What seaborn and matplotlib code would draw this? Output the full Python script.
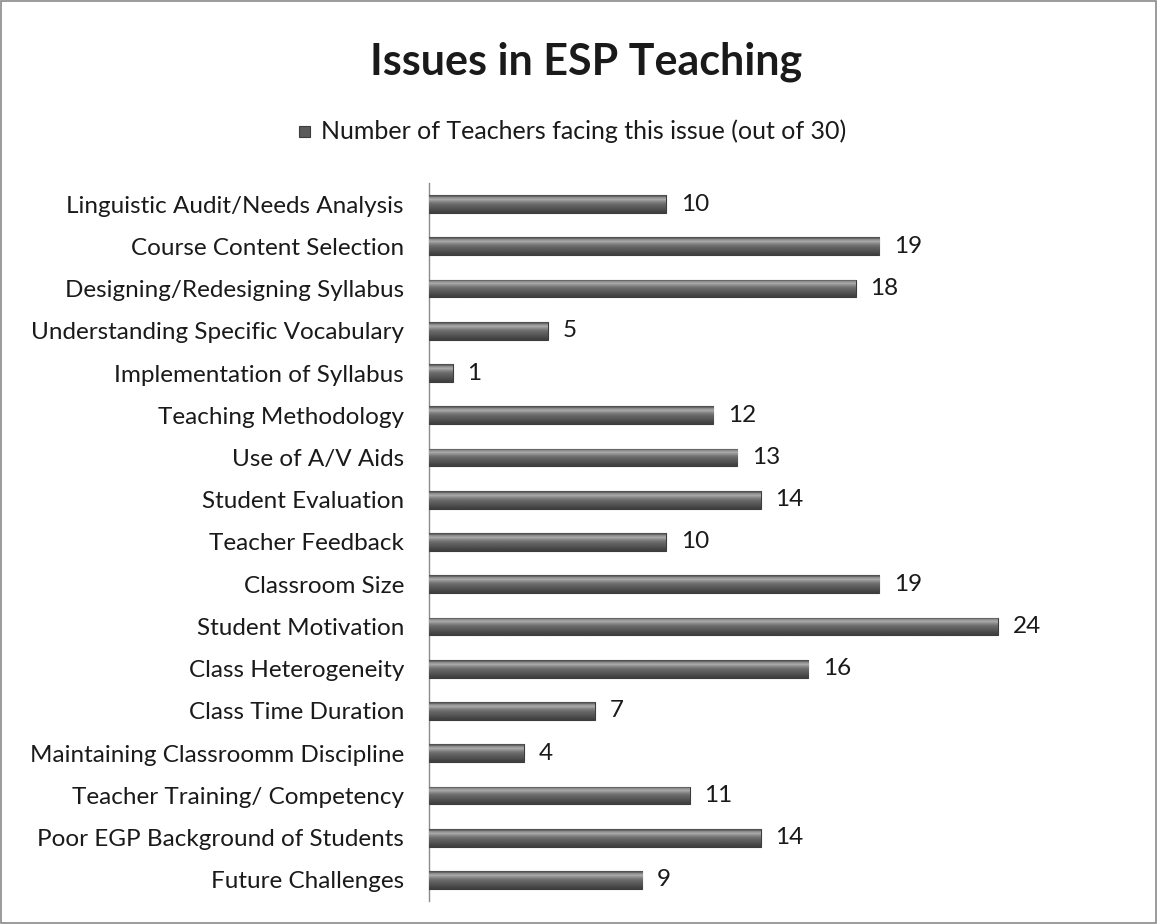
import numpy as np
import pandas as pd
import matplotlib
matplotlib.use("Agg")
import matplotlib.pyplot as plt
import seaborn as sns

# Dados do gráfico
issues = [
    "Linguistic Audit/Needs Analysis",
    "Course Content Selection",
    "Designing/Redesigning Syllabus",
    "Understanding Specific Vocabulary",
    "Implementation of Syllabus",
    "Teaching Methodology",
    "Use of A/V Aids",
    "Student Evaluation",
    "Teacher Feedback",
    "Classroom Size",
    "Student Motivation",
    "Class Heterogeneity",
    "Class Time Duration",
    "Maintaining Classroomm Discipline",
    "Teacher Training/ Competency",
    "Poor EGP Background of Students",
    "Future Challenges",
]
teachers = [10, 19, 18, 5, 1, 12, 13, 14, 10, 19, 24, 16, 7, 4, 11, 14, 9]
series_name = "Number of Teachers facing this issue (out of 30)"

df = pd.DataFrame({"issue": issues, "teachers": teachers})

sns.set_style("white")
plt.rcParams["font.family"] = ["Lato", "DejaVu Sans"]

fig = plt.figure(figsize=(11.57, 9.24), dpi=100)
ax = fig.add_axes([429 / 1157, 1 - 901 / 924, (1140 - 429) / 1157, (901 - 183) / 924])

sns.barplot(data=df, x="teachers", y="issue", orient="h", color="#5a5a5a",
            width=0.42, edgecolor="#3c3c3c", linewidth=0.8, ax=ax, zorder=3)

# gradiente "cilíndrico" nas barras
grad = np.array([0.32, 0.58, 0.66, 0.55, 0.45, 0.40, 0.36, 0.33, 0.29, 0.25]).reshape(-1, 1)
for p in ax.patches:
    x0, y0 = p.get_x(), p.get_y()
    w, h = p.get_width(), p.get_height()
    im = ax.imshow(grad, cmap="gray", vmin=0, vmax=1, aspect="auto",
                   extent=(x0, x0 + w, y0 + h, y0), interpolation="bilinear", zorder=4)
    im.set_clip_path(p)

for i, v in enumerate(teachers):
    ax.text(v + 0.62, i, str(v), va="center", ha="left", fontsize=17.5, color="#1a1a1a")

ax.set_xlim(0, 30)
ax.set_ylim(len(issues) - 0.5, -0.5)
ax.set_xlabel("")
ax.set_ylabel("")
ax.set_xticks([])
ax.tick_params(axis="y", length=0, pad=18, labelsize=17.5, labelcolor="#1a1a1a")
for s in ["top", "right", "bottom"]:
    ax.spines[s].set_visible(False)
ax.spines["left"].set_color("#8c8c8c")
ax.spines["left"].set_linewidth(1)

fig.text(586 / 1157, 1 - 62 / 924, "Issues in ESP Teaching", ha="center", va="center",
         fontsize=31, fontweight="bold", color="#1a1a1a")

# legenda
fig.patches.append(plt.Rectangle((299 / 1157, 1 - 137 / 924), 11 / 1157, 11 / 924,
                                 transform=fig.transFigure, facecolor="#5a5a5a",
                                 edgecolor="#3c3c3c", linewidth=0.8))
fig.text(321 / 1157, 1 - 131 / 924, series_name, ha="left", va="center",
         fontsize=18, color="#1a1a1a")

# moldura
fig.patches.append(plt.Rectangle((0.001, 0.001), 0.998, 0.998, transform=fig.transFigure,
                                 fill=False, edgecolor="#8a8a8a", linewidth=1.2))

fig.savefig("out.png", dpi=100)
